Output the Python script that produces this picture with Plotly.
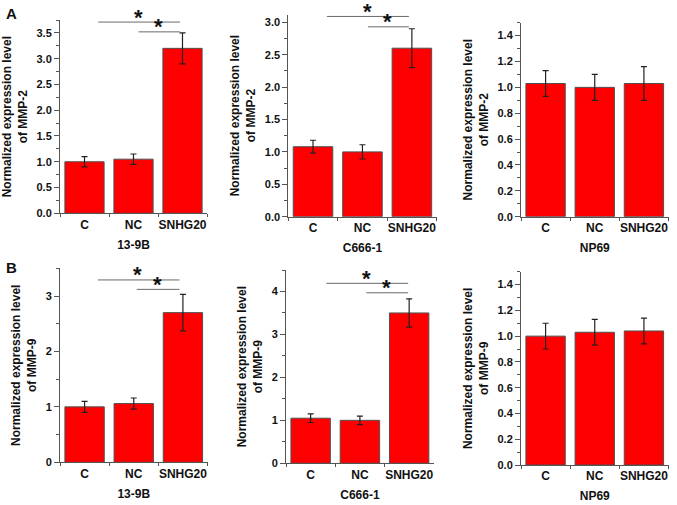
import plotly.graph_objects as go

W, H = 677, 505

categories = ["C", "NC", "SNHG20"]

# values and errors per panel (row A: MMP-2, row B: MMP-9)
mmp2_139b = [1.00, 1.05, 3.20]
mmp2_139b_err = [0.10, 0.10, 0.30]
mmp2_c666 = [1.08, 1.00, 2.60]
mmp2_c666_err = [0.10, 0.11, 0.30]
mmp2_np69 = [1.03, 1.00, 1.03]
mmp2_np69_err = [0.10, 0.10, 0.13]
mmp9_139b = [1.00, 1.06, 2.70]
mmp9_139b_err = [0.10, 0.10, 0.33]
mmp9_c666 = [1.05, 1.00, 3.50]
mmp9_c666_err = [0.10, 0.10, 0.33]
mmp9_np69 = [1.00, 1.03, 1.04]
mmp9_np69_err = [0.10, 0.10, 0.10]

cell_lines = ["13-9B", "C666-1", "NP69", "13-9B", "C666-1", "NP69"]
genes = ["MMP-2", "MMP-2", "MMP-2", "MMP-9", "MMP-9", "MMP-9"]

# significance brackets: (start, end, height) in data units
sig_139b_2 = [(0.25, 1.95, 3.71), (1.07, 1.95, 3.52)]
sig_c666_2 = [(0.25, 1.94, 3.09), (1.08, 1.94, 2.93)]
sig_139b_9 = [(0.24, 1.93, 3.29), (1.03, 1.93, 3.12)]
sig_c666_9 = [(0.29, 1.98, 4.19), (1.10, 1.98, 3.97)]

panels = [
    dict(v=mmp2_139b, e=mmp2_139b_err, sig=sig_139b_2, rng=3.75, dt=0.5, fmt=".1f",
         px=(60, 207), py=(20, 213.3)),
    dict(v=mmp2_c666, e=mmp2_c666_err, sig=sig_c666_2, rng=3.12, dt=0.5, fmt=".1f",
         px=(288.3, 436.6), py=(14.5, 216.7)),
    dict(v=mmp2_np69, e=mmp2_np69_err, sig=[], rng=1.5, dt=0.2, fmt=".1f",
         px=(521, 668.5), py=(22.7, 216.7)),
    dict(v=mmp9_139b, e=mmp9_139b_err, sig=sig_139b_9, rng=3.5, dt=1, fmt="d",
         px=(60, 207.5), py=(268.3, 462.3)),
    dict(v=mmp9_c666, e=mmp9_c666_err, sig=sig_c666_9, rng=4.5, dt=1, fmt="d",
         px=(286, 433.8), py=(270, 463.3)),
    dict(v=mmp9_np69, e=mmp9_np69_err, sig=[], rng=1.5, dt=0.2, fmt=".1f",
         px=(521, 668.5), py=(271.7, 465)),
]

FONT = "Arial, Liberation Sans, sans-serif"
AXC = "#555555"
fig = go.Figure()
annotations = []

for i, p in enumerate(panels):
    n = i + 1
    xa = "x" if n == 1 else f"x{n}"
    ya = "y" if n == 1 else f"y{n}"
    fig.add_trace(go.Bar(
        x=categories, y=p["v"], xaxis=xa, yaxis=ya, width=0.8,
        marker=dict(color="#FF0000", line=dict(color="#505050", width=1)),
        error_y=dict(type="data", array=p["e"], visible=True, color="#222222",
                     thickness=1.2, width=3),
        showlegend=False, hoverinfo="skip",
    ))
    xd = [p["px"][0] / W, p["px"][1] / W]
    yd = [1 - p["py"][1] / H, 1 - p["py"][0] / H]
    xkey = "xaxis" if n == 1 else f"xaxis{n}"
    ykey = "yaxis" if n == 1 else f"yaxis{n}"
    fig.update_layout({
        xkey: dict(domain=xd, anchor=ya, type="category", range=[-0.5, 2.5],
                   automargin=False, tickangle=0,
                   showline=True, linecolor=AXC, linewidth=1, ticks="outside",
                   tickson="boundaries", ticklen=3, tickcolor=AXC,
                   tickfont=dict(family=FONT, size=12, color="#111", weight="bold"),
                   showgrid=False, zeroline=False,
                   title=dict(text=cell_lines[i], standoff=9,
                              font=dict(family=FONT, size=12, color="#111", weight="bold"))),
        ykey: dict(domain=yd, anchor=xa, range=[0, p["rng"]], dtick=p["dt"],
                   tickformat=p["fmt"], automargin=False,
                   showline=True, linecolor=AXC, linewidth=1, ticks="outside",
                   ticklen=5, tickcolor=AXC, showgrid=False, zeroline=False,
                   minor=dict(dtick=p["dt"] / 2, ticks="outside", ticklen=3, tickcolor=AXC),
                   tickfont=dict(family=FONT, size=11, color="#111", weight="bold"),
                   title=dict(text="Normalized expression level<br>of " + genes[i], standoff=6,
                              font=dict(family=FONT, size=12, color="#111", weight="bold"))),
    })
    for (x0, x1, yv) in p["sig"]:
        annotations.append(dict(x=x1, y=yv, ax=x0, ay=yv, xref=xa, yref=ya,
                                axref=xa, ayref=ya, showarrow=True, arrowhead=0,
                                arrowwidth=1, arrowcolor="#6a6a6a", text="",
                                standoff=0, startstandoff=0))
        annotations.append(dict(x=(x0 + x1) / 2, y=yv, xref=xa, yref=ya, text="*",
                                showarrow=False, yanchor="middle", yshift=5,
                                font=dict(family=FONT, size=22, color="#111", weight="bold")))

annotations.append(dict(x=4 / W, y=1 - 13 / H, xref="paper", yref="paper", text="A",
                        showarrow=False, xanchor="left", yanchor="middle",
                        font=dict(family=FONT, size=15, color="#111", weight="bold")))
annotations.append(dict(x=4 / W, y=1 - 267 / H, xref="paper", yref="paper", text="B",
                        showarrow=False, xanchor="left", yanchor="middle",
                        font=dict(family=FONT, size=15, color="#111", weight="bold")))

fig.update_layout(width=W, height=H,
                  margin=dict(l=0, r=0, t=0, b=0, pad=0, autoexpand=False),
                  paper_bgcolor="white", plot_bgcolor="white",
                  annotations=annotations, bargap=0.2)
fig.write_html("out.html", config={"displayModeBar": False},
               post_script="document.body.style.margin='0';document.body.style.padding='0';")
